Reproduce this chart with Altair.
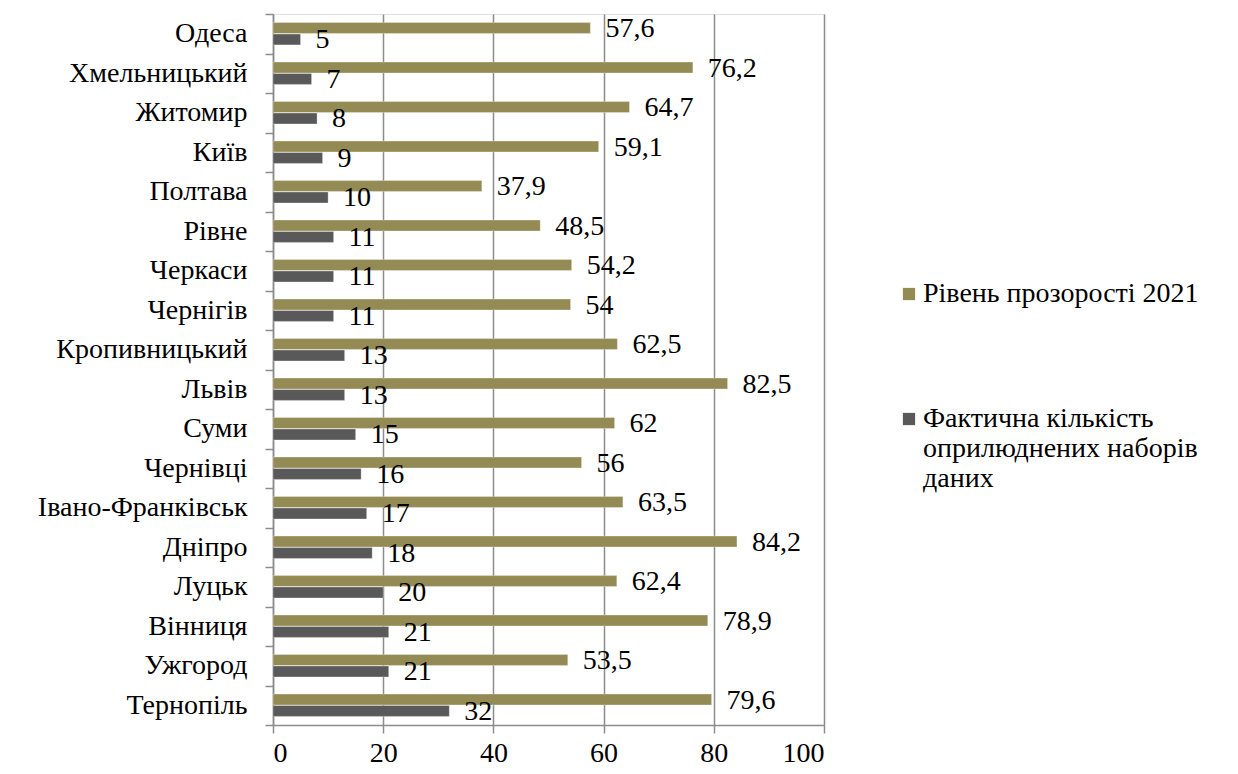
import altair as alt
import pandas as pd

cities = ["Одеса", "Хмельницький", "Житомир", "Київ", "Полтава", "Рівне", "Черкаси",
          "Чернігів", "Кропивницький", "Львів", "Суми", "Чернівці", "Івано-Франківськ",
          "Дніпро", "Луцьк", "Вінниця", "Ужгород", "Тернопіль"]
transparency = [57.6, 76.2, 64.7, 59.1, 37.9, 48.5, 54.2, 54, 62.5, 82.5, 62, 56, 63.5,
                84.2, 62.4, 78.9, 53.5, 79.6]
datasets = [5, 7, 8, 9, 10, 11, 11, 11, 13, 13, 15, 16, 17, 18, 20, 21, 21, 32]

s1 = "Рівень прозорості 2021"
s2 = "Фактична кількість оприлюднених наборів даних"
series = [s1, s2]
colors = ["#948A54", "#595959"]
x_ticks = [0, 20, 40, 60, 80, 100]

rows = []
for c, t, d in zip(cities, transparency, datasets):
    rows.append({"city": c, "series": s1, "value": t})
    rows.append({"city": c, "series": s2, "value": d})
df = pd.DataFrame(rows)

FONT = "Liberation Serif, Tinos, Noto Serif, DejaVu Serif, serif"
GRID = "#8C8C8C"

y_enc = alt.Y("city:N", sort=cities, title=None,
              scale=alt.Scale(paddingInner=0, paddingOuter=0),
              axis=alt.Axis(tickBand="extent", tickSize=8, labelPadding=18,
                            labelFont=FONT, labelFontSize=28, labelColor="black",
                            labelLimit=400, domainColor=GRID, tickColor=GRID,
                            domainWidth=1.5, tickWidth=1.5, grid=False))
yoff = alt.YOffset("series:N", sort=series,
                   scale=alt.Scale(paddingInner=0.05, paddingOuter=0.75))

bars = alt.Chart(df).mark_bar(stroke="#FFFFFF", strokeWidth=0.3).encode(
    x=alt.X("value:Q", title=None,
            scale=alt.Scale(domain=[0, 100], nice=False),
            axis=alt.Axis(values=x_ticks, tickSize=8, labelPadding=6,
                          labelFont=FONT, labelFontSize=28, labelColor="black",
                          grid=True, gridColor=GRID, gridWidth=1.5,
                          domainColor=GRID, tickColor=GRID, domainWidth=1.5,
                          tickWidth=1.5)),
    y=y_enc,
    yOffset=yoff,
    color=alt.Color("series:N", sort=series,
                    scale=alt.Scale(domain=series, range=colors),
                    legend=alt.Legend(title=None, orient="none", legendX=622, legendY=266,
                                      symbolType="square", symbolSize=150,
                                      symbolStrokeWidth=0, labelFont=FONT,
                                      labelFontSize=28, labelColor="black",
                                      labelLimit=500, rowPadding=97, labelOffset=0,
                                      labelExpr="datum.label == '" + s2 + "' ? ['Фактична кількість', 'оприлюднених наборів', 'даних'] : datum.label")),
)

labels = alt.Chart(df).transform_calculate(
    lab="replace(toString(datum.value), '.', ',')"
).mark_text(align="left", baseline="middle", dx=15, dy=1, font=FONT,
            fontSize=28, color="black").encode(
    x=alt.X("value:Q"),
    y=alt.Y("city:N", sort=cities),
    yOffset=yoff,
    text="lab:N",
)

chart = alt.layer(bars, labels).properties(
    width=551, height=711,
    padding={"left": 37, "top": 0, "right": 5, "bottom": 5},
).configure_view(stroke=None).configure(background="white", font=FONT)

chart.save("out.html", embed_options={"renderer": "svg", "actions": False})
